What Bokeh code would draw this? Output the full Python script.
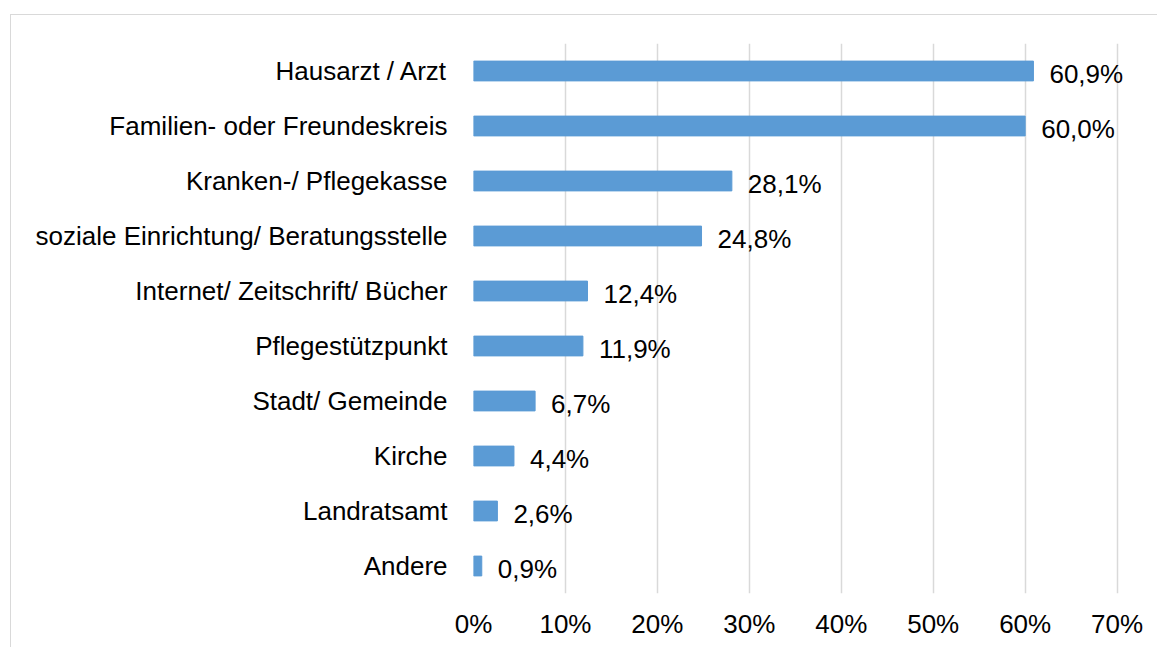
from bokeh.plotting import figure
from bokeh.models import ColumnDataSource, FixedTicker, PrintfTickFormatter, Range1d
from bokeh.core.properties import value
from bokeh.embed import file_html
from bokeh.resources import INLINE

categories = ["Hausarzt / Arzt", "Familien- oder Freundeskreis", "Kranken-/ Pflegekasse",
              "soziale Einrichtung/ Beratungsstelle", "Internet/ Zeitschrift/ Bücher",
              "Pflegestützpunkt", "Stadt/ Gemeinde", "Kirche", "Landratsamt", "Andere"]
values = [60.9, 60.0, 28.1, 24.8, 12.4, 11.9, 6.7, 4.4, 2.6, 0.9]
tick_values = [0, 10, 20, 30, 40, 50, 60, 70]

labels = [f"{v:.1f}".replace(".", ",") + "%" for v in values]
source = ColumnDataSource(dict(cat=categories, val=values, lab=labels))

FONT = "Liberation Sans"
FS = "26px"
p = figure(y_range=list(reversed(categories)), x_range=Range1d(0, 72),
           width=1147, height=633, output_backend="svg", toolbar_location=None,
           min_border_left=462, min_border_right=23, min_border_top=28, min_border_bottom=55)
p.styles = {"margin-left": "10px", "margin-top": "14px",
            "border-left": "1px solid #d9d9d9", "border-top": "1px solid #d9d9d9"}

p.hbar(y="cat", right="val", left=0, height=0.36, color="#5B9BD5", source=source)
p.text(x="val", y="cat", text="lab", source=source, x_offset=16, y_offset=3,
       text_align="left", text_baseline="middle", text_font=value(FONT),
       text_font_size=FS, text_color="#000000")

p.outline_line_color = None
p.background_fill_color = "white"
p.border_fill_color = "white"

p.xaxis.ticker = FixedTicker(ticks=tick_values)
p.xaxis.formatter = PrintfTickFormatter(format="%d%%")
p.xaxis.axis_line_color = None
p.xaxis.major_tick_line_color = None
p.xaxis.minor_tick_line_color = None
p.xaxis.major_label_standoff = 9
p.xaxis.major_label_text_font = FONT
p.xaxis.major_label_text_font_size = FS
p.xaxis.major_label_text_color = "#000000"

p.yaxis.axis_line_color = None
p.yaxis.major_tick_line_color = None
p.yaxis.minor_tick_line_color = None
p.yaxis.major_label_standoff = 20
p.yaxis.major_label_text_font = FONT
p.yaxis.major_label_text_font_size = FS
p.yaxis.major_label_text_color = "#000000"

p.xgrid.grid_line_color = "#d9d9d9"
p.xgrid.grid_line_width = 1.5
p.ygrid.grid_line_color = None

open("out.html", "w").write(file_html(p, INLINE))
